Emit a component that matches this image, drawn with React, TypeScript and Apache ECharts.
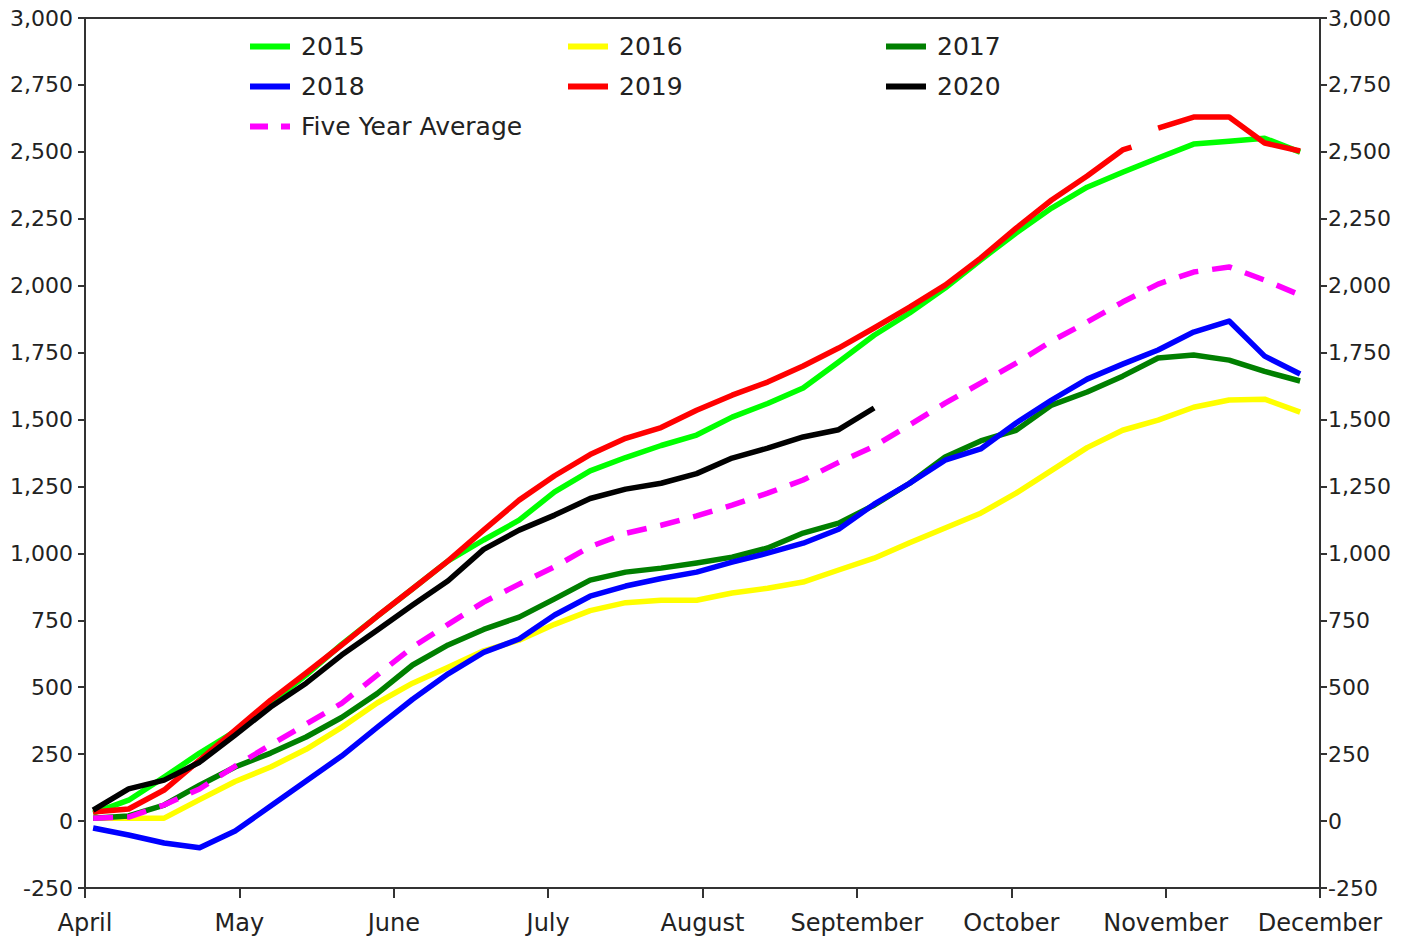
import React, { useEffect, useRef } from "react";
import * as echarts from "echarts";

// Month tick labels (evenly spaced axis, one unit per month starting at April)
const MONTHS = ["April", "May", "June", "July", "August", "September", "October", "November", "December"];

// Weekly readings: first reading ~1.6 days after April 1, then every 7 days
const FIRST_DAY = 1.6;
const DAYS_PER_MONTH = 30.44;

const SERIES_NAMES = ["2015", "2016", "2017", "2018", "2019", "2020", "Five Year Average"];
const SERIES_COLORS = ["#00ff00", "#ffff00", "#007f00", "#0000ff", "#ff0000", "#000000", "#ff00ff"];

const v2015 = [30, 78, 164, 254, 335, 441, 545, 660, 765, 868, 972, 1050, 1124, 1230, 1308, 1358, 1403, 1442, 1509, 1560, 1618, 1715, 1815, 1898, 1991, 2096, 2197, 2290, 2368, 2424, 2477, 2529, 2540, 2551, 2499];
const v2016 = [11, 11, 11, 80, 148, 202, 268, 350, 441, 515, 575, 636, 676, 735, 786, 816, 825, 825, 852, 870, 893, 938, 982, 1040, 1095, 1150, 1225, 1310, 1395, 1460, 1498, 1546, 1573, 1576, 1528];
const v2017 = [11, 19, 60, 134, 202, 254, 314, 387, 476, 583, 658, 716, 762, 830, 900, 930, 945, 964, 986, 1020, 1076, 1113, 1180, 1262, 1360, 1420, 1460, 1554, 1603, 1662, 1730, 1741, 1722, 1680, 1644];
const v2018 = [-26, -52, -82, -100, -37, 56, 150, 243, 350, 455, 550, 630, 680, 770, 840, 878, 906, 930, 967, 1001, 1038, 1090, 1184, 1262, 1348, 1390, 1487, 1573, 1651, 1707, 1760, 1827, 1868, 1737, 1670];
const v2019 = [34, 45, 116, 228, 340, 452, 553, 657, 765, 868, 972, 1087, 1199, 1290, 1369, 1430, 1470, 1535, 1591, 1640, 1700, 1767, 1842, 1920, 2002, 2103, 2215, 2320, 2410, 2507, 2589, 2630, 2630, 2533, 2503];
const v2020 = [41, 120, 153, 220, 321, 426, 515, 620, 713, 807, 898, 1015, 1087, 1143, 1205, 1240, 1262, 1298, 1356, 1393, 1435, 1462, 1543];
const vAverage = [11, 15, 60, 120, 205, 285, 362, 440, 545, 650, 735, 818, 885, 950, 1025, 1075, 1105, 1140, 1180, 1225, 1274, 1340, 1400, 1480, 1561, 1636, 1711, 1793, 1864, 1939, 2006, 2051, 2070, 2021, 1965];

// 2019 line is interrupted a little after week 29 (last drawn value) until week 30
const BREAK_2019 = { afterWeek: 29, lastWeek: 29.25, lastValue: 2518 };

const Y_MIN = -250;
const Y_MAX = 3000;
const Y_STEP = 250;

const FONT = "DejaVu Sans";
const TEXT_COLOR = "#222";
const AXIS_COLOR = "#333";
const LINE_WIDTH = 5.5;
const DASH = [20, 14];

function weekX(i: number): number {
  return (FIRST_DAY + 7 * i) / DAYS_PER_MONTH;
}

function pairs(vals: number[]): any[] {
  return vals.map((v, i) => [weekX(i), v]);
}

function pairs2019(): any[] {
  const out: any[] = [];
  v2019.forEach((v, i) => {
    out.push([weekX(i), v]);
    if (i === BREAK_2019.afterWeek) {
      out.push([weekX(BREAK_2019.lastWeek), BREAK_2019.lastValue]);
      out.push([weekX((BREAK_2019.lastWeek + i + 1) / 2), "-"]);
    }
  });
  return out;
}

const fmt = (v: number) => v.toLocaleString("en-US");

export default function App() {
  const ref = useRef<HTMLDivElement>(null);

  useEffect(() => {
    if (!ref.current) return;
    const chart = echarts.init(ref.current, undefined, { renderer: "svg" });

    const datas = [pairs(v2015), pairs(v2016), pairs(v2017), pairs(v2018), pairs2019(), pairs(v2020), pairs(vAverage)];

    const series = SERIES_NAMES.map((name, k) => ({
      name,
      type: "line",
      data: datas[k],
      showSymbol: false,
      symbol: "none",
      color: SERIES_COLORS[k],
      lineStyle: {
        color: SERIES_COLORS[k],
        width: LINE_WIDTH,
        join: "round",
        type: k === 6 ? DASH : "solid",
      },
      z: 2 + k,
    }));

    const legendSlots: [number, number][] = [
      [245, 29], [563, 29], [881, 29],
      [245, 69], [563, 69], [881, 69],
      [245, 109],
    ];

    const solidIcon = "path://M0,0h40v6h-40z";
    const dashedIcon = "path://M0,0h18v6h-18z M31,0h9v6h-9z";

    const legend = SERIES_NAMES.map((name, k) => ({
      data: [{ name, icon: k === 6 ? dashedIcon : solidIcon }],
      left: legendSlots[k][0],
      top: legendSlots[k][1],
      itemWidth: 40,
      itemHeight: 6,
      selectedMode: false,
      textStyle: { fontSize: 25, fontFamily: FONT, color: TEXT_COLOR, padding: [0, 0, 0, 6] },
    }));

    const yAxisBase = {
      type: "value",
      min: Y_MIN,
      max: Y_MAX,
      interval: Y_STEP,
      splitLine: { show: false },
      axisLine: { show: true, lineStyle: { color: AXIS_COLOR, width: 2 } },
      axisTick: { show: true, length: 7, lineStyle: { color: AXIS_COLOR, width: 2 } },
    };

    chart.setOption({
      animation: false,
      backgroundColor: "#ffffff",
      textStyle: { fontFamily: FONT },
      grid: {
        left: 85,
        right: 95,
        top: 18,
        bottom: 55,
        show: true,
        borderColor: AXIS_COLOR,
        borderWidth: 2,
        backgroundColor: "transparent",
      },
      legend,
      xAxis: {
        type: "value",
        min: 0,
        max: MONTHS.length - 1,
        interval: 1,
        splitLine: { show: false },
        axisLine: { show: true, onZero: false, lineStyle: { color: AXIS_COLOR, width: 2 } },
        axisTick: { show: true, length: 10, lineStyle: { color: AXIS_COLOR, width: 2 } },
        axisLabel: {
          margin: 23,
          fontSize: 24,
          fontFamily: FONT,
          color: TEXT_COLOR,
          formatter: (v: number) => MONTHS[Math.round(v)] ?? "",
        },
      },
      yAxis: [
        {
          ...yAxisBase,
          position: "left",
          axisLabel: { margin: 12, fontSize: 22, fontFamily: FONT, color: TEXT_COLOR, formatter: fmt },
        },
        {
          ...yAxisBase,
          position: "right",
          axisLabel: { margin: 8, fontSize: 22, fontFamily: FONT, color: TEXT_COLOR, formatter: fmt },
        },
      ],
      series,
    });

    return () => chart.dispose();
  }, []);

  return (
    <div
      ref={ref}
      style={{ position: "fixed", left: 0, top: 0, width: 1415, height: 943, background: "#fff" }}
    />
  );
}
